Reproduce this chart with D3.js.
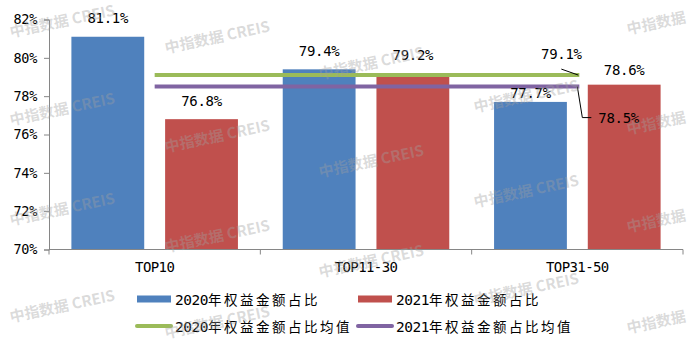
<!DOCTYPE html>
<html>
<head>
<meta charset="utf-8">
<script src="https://cdn.jsdelivr.net/npm/d3@7/dist/d3.min.js"></script>
<style>
  html, body { margin: 0; padding: 0; background: #fff; }
  svg { display: block; }
</style>
</head>
<body>
<svg id="chart" width="700" height="342"></svg>
<script>
// Share of equity amount by developer ranking tier
const categories = ["TOP10", "TOP11-30", "TOP31-50"];
const seriesNames = ["2020年权益金额占比", "2021年权益金额占比"];
const values2020 = [81.1, 79.4, 77.7];
const values2021 = [76.8, 79.2, 78.6];
const avgNames = ["2020年权益金额占比均值", "2021年权益金额占比均值"];
const avg2020 = 79.1;
const avg2021 = 78.5;
const yTicks = [70, 72, 74, 76, 78, 80, 82];

const colors = { bar2020: "#4F81BD", bar2021: "#C0504D", avg2020: "#9BBB59", avg2021: "#8064A2" };
const MONO = "'DejaVu Sans Mono', monospace";
const CJK = "'Noto Sans CJK SC', sans-serif";

const svg = d3.select("#chart");
const plot = { left: 49, right: 683, top: 19.5, bottom: 249.5 };

const x = d3.scaleBand().domain(categories).range([plot.left, plot.right]).padding(0);
const xInner = d3.scaleBand().domain([0, 1]).range([0, x.bandwidth()])
  .paddingInner(0.223).paddingOuter(0.239);
const y = d3.scaleLinear().domain([70, 82]).range([plot.bottom, plot.top]);

const bars = [];
categories.forEach((c, i) => {
  bars.push({ cat: c, s: 0, v: values2020[i], color: colors.bar2020 });
  bars.push({ cat: c, s: 1, v: values2021[i], color: colors.bar2021 });
});

// bars
svg.append("g").selectAll("rect").data(bars).join("rect")
  .attr("x", d => x(d.cat) + xInner(d.s))
  .attr("y", d => y(d.v))
  .attr("width", xInner.bandwidth())
  .attr("height", d => y(70) - y(d.v))
  .attr("fill", d => d.color);

// y axis
const yAxis = d3.axisLeft(y).tickValues(yTicks).tickSize(5).tickPadding(7)
  .tickFormat(d => d + "%");
const gy = svg.append("g").attr("transform", `translate(${plot.left},0)`).call(yAxis);
gy.select(".domain").attr("stroke", "#868686");
gy.selectAll(".tick line").attr("stroke", "#868686");
gy.selectAll(".tick text").attr("fill", "#000").style("font-family", MONO).style("font-size", "13.5px")
  .style("letter-spacing", "-0.3px");

// x axis: ticks at category boundaries
const gx = svg.append("g").attr("transform", `translate(0,${plot.bottom})`);
gx.append("line").attr("x1", plot.left).attr("x2", plot.right).attr("stroke", "#868686");
const boundaries = categories.map(c => x(c)).concat([x(categories[categories.length - 1]) + x.bandwidth()]);
gx.selectAll("line.tk").data(boundaries).join("line").attr("class", "tk")
  .attr("x1", d => d).attr("x2", d => d).attr("y1", 0).attr("y2", 5).attr("stroke", "#868686");
gx.selectAll("text").data(categories).join("text")
  .attr("x", d => x(d) + x.bandwidth() / 2).attr("y", 22.5)
  .attr("text-anchor", "middle").style("font-family", MONO).style("font-size", "14px")
  .style("letter-spacing", "-0.6px")
  .attr("fill", "#000").text(d => d);

// mean lines spanning first to last category centres
const cx0 = x(categories[0]) + x.bandwidth() / 2;
const cx1 = x(categories[categories.length - 1]) + x.bandwidth() / 2 + 2;
[[avg2020, colors.avg2020], [avg2021, colors.avg2021]].forEach(([v, col]) => {
  svg.append("line").attr("x1", cx0).attr("x2", cx1).attr("y1", y(v)).attr("y2", y(v))
    .attr("stroke", col).attr("stroke-width", 4);
});

// bar value labels (two labels moved clear of the mean lines)
const labelNudge = { "TOP31-50|0": 10, "TOP31-50|1": 4 };
svg.append("g").selectAll("text").data(bars).join("text")
  .attr("x", d => x(d.cat) + xInner(d.s) + xInner.bandwidth() / 2)
  .attr("y", d => y(d.v) - 13.5 + (labelNudge[d.cat + "|" + d.s] || 0))
  .attr("text-anchor", "middle").style("font-family", MONO).style("font-size", "14px")
  .style("letter-spacing", "-0.3px")
  .attr("fill", "#000").text(d => d.v.toFixed(1) + "%");

// mean value labels with leader lines
const endX = cx1 - 1;
svg.append("path")
  .attr("d", `M${endX},${y(avg2020)} L${endX - 17},${y(avg2020) - 6}`)
  .attr("stroke", "#000").attr("fill", "none");
svg.append("text").attr("x", endX - 17).attr("y", y(avg2020) - 16)
  .attr("text-anchor", "middle").style("font-family", MONO).style("font-size", "14px")
  .style("letter-spacing", "-0.3px")
  .text(avg2020.toFixed(1) + "%");
svg.append("path")
  .attr("d", `M${endX - 1},${y(avg2021)} L${endX + 4},${y(avg2021) + 31} L${endX + 13},${y(avg2021) + 31}`)
  .attr("stroke", "#000").attr("fill", "none");
svg.append("text").attr("x", endX + 20).attr("y", y(avg2021) + 36)
  .attr("text-anchor", "start").style("font-family", MONO).style("font-size", "14px")
  .style("letter-spacing", "-0.3px")
  .text(avg2021.toFixed(1) + "%");

// legend
function legendText(g, str, tx, ty) {
  const t = g.append("text").attr("x", tx).attr("y", ty).attr("fill", "#000");
  const parts = str.match(/[0-9]+|[^0-9]+/g);
  parts.forEach(p => {
    const isNum = /^[0-9]+$/.test(p);
    t.append("tspan").text(p)
      .style("font-family", isNum ? MONO : CJK)
      .style("font-size", isNum ? "14.5px" : "13.5px")
      .style("letter-spacing", isNum ? "-0.5px" : "2.5px");
  });
}
const legendItems = [
  { name: seriesNames[0], color: colors.bar2020, type: "rect", col: 0, row: 0 },
  { name: seriesNames[1], color: colors.bar2021, type: "rect", col: 1, row: 0 },
  { name: avgNames[0], color: colors.avg2020, type: "line", col: 0, row: 1 },
  { name: avgNames[1], color: colors.avg2021, type: "line", col: 1, row: 1 }
];
const lg = svg.append("g");
legendItems.forEach(it => {
  const lx = it.col === 0 ? 137 : 358;
  const ly = it.row === 0 ? 299 : 326;
  if (it.type === "rect") {
    lg.append("rect").attr("x", lx).attr("y", ly - 3.5).attr("width", 34).attr("height", 7).attr("fill", it.color);
  } else {
    lg.append("line").attr("x1", lx).attr("x2", lx + 34).attr("y1", ly).attr("y2", ly)
      .attr("stroke", it.color).attr("stroke-width", 4).attr("stroke-linecap", "round");
  }
  legendText(lg, it.name, lx + 38, ly + 5.5);
});

// watermark
const wm = [
  [62, 20], [62, 108], [62, 208], [62, 305],
  [217, 36], [217, 135], [217, 235], [217, 321],
  [371, 62], [371, 160], [371, 260],
  [526, 95], [526, 190], [526, 288]
];
const wmShort = [[656, 22], [656, 122], [656, 220], [656, 321]];
const wg = svg.append("g").attr("fill", "#a0a0a0").attr("fill-opacity", 0.38)
  .style("font-family", CJK).style("font-weight", "bold").style("font-size", "15px");
wm.forEach(([cx, cy]) => {
  wg.append("text").attr("text-anchor", "middle").attr("dominant-baseline", "central")
    .attr("transform", `translate(${cx},${cy}) rotate(-12)`).text("中指数据 CREIS");
});
wmShort.forEach(([cx, cy]) => {
  wg.append("text").attr("text-anchor", "middle").attr("dominant-baseline", "central")
    .attr("transform", `translate(${cx},${cy}) rotate(-12)`).text("中指数据");
});
</script>
</body>
</html>
